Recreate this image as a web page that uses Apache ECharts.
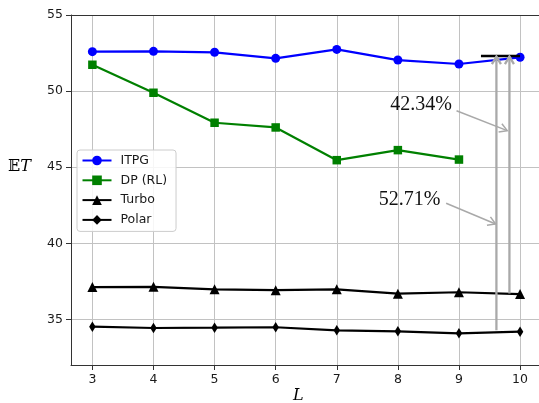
<!DOCTYPE html>
<html>
<head>
<meta charset="utf-8">
<script src="https://cdn.jsdelivr.net/npm/echarts@6/dist/echarts.min.js"></script>
<style>html,body{margin:0;padding:0;background:#fff;}#c{width:539px;height:403px;}</style>
</head>
<body>
<div id="c"></div>
<script>
// ---- data ----
const L = [3, 4, 5, 6, 7, 8, 9, 10];
const itpg = [52.59, 52.61, 52.55, 52.15, 52.74, 52.04, 51.78, 52.22];
const dpRL = [51.73, 49.89, 47.92, 47.61, 45.46, 46.12, 45.50];
const turbo = [37.12, 37.14, 36.97, 36.92, 36.97, 36.69, 36.78, 36.66];
const polar = [34.52, 34.43, 34.45, 34.48, 34.28, 34.21, 34.08, 34.19];
const xTicks = [3, 4, 5, 6, 7, 8, 9, 10];
const yTicks = [35, 40, 45, 50, 55];
// reference level line (L from, L to, value)
const refLineL = [9.36, 10.0];
const refLineY = 52.31;
// arrows: [L start, value start, L end, value end]
const arrows = [
  [9.613, 34.28, 9.613, 52.27],
  [9.826, 36.70, 9.826, 52.27],
  [8.96, 48.71, 9.79, 47.40],
  [8.79, 42.63, 9.60, 41.27]
];
// annotation texts: [L, value, text]
const notes = [
  [8.38, 49.09, '42.34%'],
  [8.19, 42.85, '52.71%']
];

const zip = (xs, ys) => ys.map((v, i) => [xs[i], v]);
const chart = echarts.init(document.getElementById('c'), null, {renderer: 'canvas'});
const tickFont = {fontFamily: 'DejaVu Sans', fontSize: 12.5, color: '#1a1a1a'};
const thinDiamond = 'path://M0,-10 L6,0 L0,10 L-6,0 Z';

chart.setOption({
  animation: false,
  grid: {left: 71, top: 15, right: 0, bottom: 38},
  legend: {
    orient: 'vertical', left: 77, top: 150,
    data: ['ITPG', 'DP (RL)', 'Turbo', 'Polar'],
    itemWidth: 29, itemHeight: 12, itemGap: 6.8,
    padding: [4, 9, 5, 4.5],
    backgroundColor: 'rgba(255,255,255,0.85)',
    borderColor: '#cccccc', borderWidth: 1, borderRadius: 3,
    textStyle: {fontFamily: 'DejaVu Sans', fontSize: 12.5, color: '#1a1a1a', padding: [0, 0, 0, 4]}
  },
  xAxis: [{
    type: 'value', min: 2.65, max: 10.31,
    axisLine: {show: true, lineStyle: {color: '#333', width: 1}},
    axisTick: {show: true, length: 5, customValues: xTicks, lineStyle: {color: '#333'}},
    axisLabel: Object.assign({margin: 8, customValues: xTicks}, tickFont),
    splitLine: {show: true, lineStyle: {color: '#c2c2c2', width: 1}}
  }, {
    type: 'value', position: 'top', min: 2.65, max: 10.31,
    axisLine: {show: true, onZero: false, lineStyle: {color: '#333', width: 1}},
    axisTick: {show: false}, axisLabel: {show: false}, splitLine: {show: false}
  }],
  yAxis: {
    type: 'value', min: 32, max: 55,
    axisLine: {show: true, lineStyle: {color: '#333', width: 1}},
    axisTick: {show: true, length: 5, customValues: yTicks, lineStyle: {color: '#333'}},
    axisLabel: Object.assign({margin: 8, customValues: yTicks}, tickFont),
    splitLine: {show: true, lineStyle: {color: '#c2c2c2', width: 1}}
  },
  graphic: [
    {type: 'text', left: 8, top: 159, style: {
      text: '{a|𝔼}{b|T}', rich: {
        a: {fontFamily: 'DejaVu Serif', fontSize: 16, fill: '#000'},
        b: {fontFamily: 'DejaVu Serif', fontStyle: 'italic', fontSize: 16, fill: '#000'}
      }}},
    {type: 'text', left: 293, top: 388, style: {
      text: 'L', fontFamily: 'DejaVu Serif', fontStyle: 'italic', fontSize: 16, fill: '#000'}}
  ],
  series: [
    {name: 'ITPG', type: 'line', data: zip(L, itpg), symbol: 'circle', symbolSize: 9,
     color: '#0000ff', lineStyle: {width: 2.2}, z: 3},
    {name: 'DP (RL)', type: 'line', data: zip(L, dpRL), symbol: 'rect', symbolSize: 8.5,
     color: '#008000', lineStyle: {width: 2.2}, z: 3},
    {name: 'Turbo', type: 'line', data: zip(L, turbo), symbol: 'triangle', symbolSize: 10,
     color: '#000000', lineStyle: {width: 2.2}, z: 3},
    {name: 'Polar', type: 'line', data: zip(L, polar), symbol: thinDiamond, symbolSize: [6.5, 10.5],
     color: '#000000', lineStyle: {width: 2.2}, z: 3},
    {name: 'ref', type: 'line', data: zip(refLineL, [refLineY, refLineY]), symbol: 'none',
     color: '#000000', lineStyle: {width: 2.4}, z: 4, silent: true},
    {name: 'arrows', type: 'custom', silent: true, z: 5,
     data: arrows, encode: {x: [0, 2], y: [1, 3]},
     renderItem: function (params, api) {
       const p1 = api.coord([api.value(0), api.value(1)]);
       const p2 = api.coord([api.value(2), api.value(3)]);
       const w = params.dataIndex < 2 ? 2.3 : 1.5;
       const dx = p2[0] - p1[0], dy = p2[1] - p1[1];
       const len = Math.hypot(dx, dy), ux = dx / len, uy = dy / len;
       const hl = 7.5, hw = 4.5;
       const bx = p2[0] - ux * hl, by = p2[1] - uy * hl;
       const a = [bx - uy * hw, by + ux * hw], b = [bx + uy * hw, by - ux * hw];
       return {type: 'group', children: [
         {type: 'line', shape: {x1: p1[0], y1: p1[1], x2: p2[0], y2: p2[1]},
          style: {stroke: '#a9a9a9', lineWidth: w}},
         {type: 'polyline', shape: {points: [a, p2, b]},
          style: {stroke: '#a9a9a9', lineWidth: w, fill: null}}
       ]};
     }},
    {name: 'notes', type: 'custom', silent: true, z: 6,
     data: notes, encode: {x: 0, y: 1},
     renderItem: function (params, api) {
       const p = api.coord([api.value(0), api.value(1)]);
       return {type: 'text', x: p[0], y: p[1], style: {
         text: notes[params.dataIndex][2], fontFamily: 'Liberation Serif', fontSize: 20,
         fill: '#111', align: 'center', verticalAlign: 'middle'}};
     }}
  ]
});
</script>
</body>
</html>
